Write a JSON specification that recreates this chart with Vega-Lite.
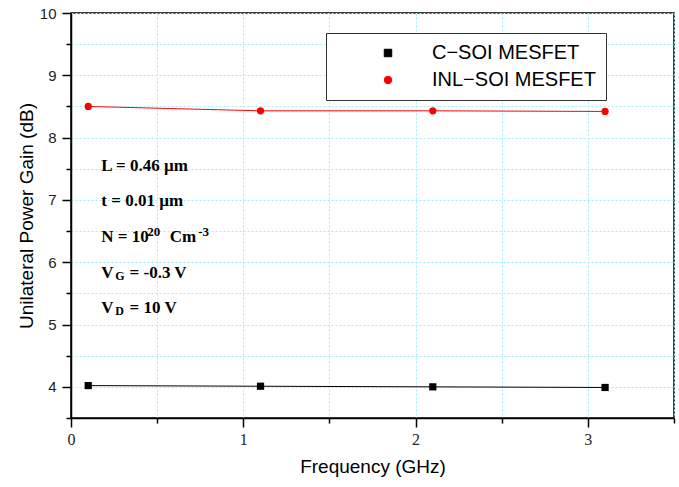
{
  "$schema": "https://vega.github.io/schema/vega-lite/v6.json",
  "width": 603,
  "height": 405,
  "autosize": {"type": "none"},
  "padding": {"left": 71, "top": 13, "right": 5, "bottom": 69},
  "background": "white",
  "config": {
    "view": {"stroke": "black", "strokeWidth": 1.5},
    "axis": {
      "domainColor": "black",
      "domainWidth": 1.5,
      "tickColor": "black",
      "tickWidth": 1.5,
      "grid": true,
      "gridColor": "#9eeef8",
      "gridDash": [2, 2],
      "gridWidth": 1,
      "titleFont": "Liberation Sans",
      "titleFontWeight": "normal",
      "titleColor": "black"
    }
  },
  "datasets": {
    "series": [
      {"device": "C−SOI MESFET", "freq": 0.1, "gain": 4.02},
      {"device": "C−SOI MESFET", "freq": 1.1, "gain": 4.01},
      {"device": "C−SOI MESFET", "freq": 2.1, "gain": 4.0},
      {"device": "C−SOI MESFET", "freq": 3.1, "gain": 3.99},
      {"device": "INL−SOI MESFET", "freq": 0.1, "gain": 8.5},
      {"device": "INL−SOI MESFET", "freq": 1.1, "gain": 8.43},
      {"device": "INL−SOI MESFET", "freq": 2.1, "gain": 8.43},
      {"device": "INL−SOI MESFET", "freq": 3.1, "gain": 8.42}
    ],
    "notes": [
      {"label": "L = 0.46 µm", "freq": 0.176, "gain": 7.46},
      {"label": "t = 0.01 µm", "freq": 0.176, "gain": 6.9},
      {"label": "N = 10", "freq": 0.176, "gain": 6.33},
      {"label": "Cm", "freq": 0.573, "gain": 6.33},
      {"label": "V", "freq": 0.176, "gain": 5.75},
      {"label": "= -0.3 V", "freq": 0.34, "gain": 5.75},
      {"label": "V", "freq": 0.176, "gain": 5.18},
      {"label": "= 10 V", "freq": 0.34, "gain": 5.18}
    ],
    "sups": [
      {"label": "20", "freq": 0.442, "gain": 6.33},
      {"label": "-3", "freq": 0.738, "gain": 6.33}
    ],
    "subs": [
      {"label": "G", "freq": 0.257, "gain": 5.75},
      {"label": "D", "freq": 0.257, "gain": 5.18}
    ]
  },
  "encoding": {
    "x": {
      "field": "freq",
      "type": "quantitative",
      "scale": {"domain": [0, 3.5], "nice": false, "zero": false},
      "axis": {
        "title": "Frequency (GHz)",
        "titleFontSize": 19,
        "titlePadding": 10,
        "values": [0, 0.5, 1, 1.5, 2, 2.5, 3, 3.5],
        "labelExpr": "datum.value % 1 === 0 ? format(datum.value, 'd') : ''",
        "labelFont": "Liberation Serif",
        "labelFontSize": 16,
        "labelColor": "#222222",
        "labelPadding": 4,
        "labelFlush": false,
        "tickSize": {"condition": {"test": "datum.value % 1 !== 0", "value": 5}, "value": 9}
      }
    },
    "y": {
      "field": "gain",
      "type": "quantitative",
      "scale": {"domain": [3.5, 10], "nice": false, "zero": false},
      "axis": {
        "title": "Unilateral Power Gain (dB)",
        "titleFontSize": 19,
        "titlePadding": 3,
        "values": [3.5, 4, 4.5, 5, 5.5, 6, 6.5, 7, 7.5, 8, 8.5, 9, 9.5, 10],
        "labelExpr": "datum.value % 1 === 0 ? format(datum.value, 'd') : ''",
        "labelFont": "Liberation Sans",
        "labelFontSize": 15,
        "labelColor": "#222222",
        "labelPadding": 6,
        "labelFlush": false,
        "tickSize": {"condition": {"test": "datum.value % 1 !== 0", "value": 5}, "value": 9}
      }
    }
  },
  "layer": [
    {
      "data": {"name": "series"},
      "mark": {"type": "line", "strokeWidth": 1},
      "encoding": {
        "color": {
          "field": "device",
          "type": "nominal",
          "scale": {"domain": ["C−SOI MESFET", "INL−SOI MESFET"], "range": ["#000000", "#ff0000"]}
        }
      }
    },
    {
      "data": {"name": "series"},
      "mark": {"type": "point", "filled": true, "opacity": 1},
      "encoding": {
        "color": {
          "field": "device",
          "type": "nominal",
          "scale": {"domain": ["C−SOI MESFET", "INL−SOI MESFET"], "range": ["#000000", "#ff0000"]},
          "legend": {
            "title": null,
            "orient": "none",
            "legendX": 255,
            "legendY": 20,
            "padding": 10,
            "strokeColor": "#333333",
            "fillColor": "white",
            "symbolSize": 56,
            "symbolOffset": 42,
            "symbolStrokeWidth": 1,
            "labelFont": "Liberation Sans",
            "labelFontSize": 20,
            "labelColor": "black",
            "labelOffset": 34,
            "labelLimit": 300,
            "rowPadding": 7,
            "encode": {
              "legend": {
                "strokeWidth": {"value": 1.5}
              }
            }
          }
        },
        "shape": {
          "field": "device",
          "type": "nominal",
          "scale": {"domain": ["C−SOI MESFET", "INL−SOI MESFET"], "range": ["square", "circle"]},
          "legend": null
        },
        "size": {"value": 52}
      }
    },
    {
      "data": {"name": "notes"},
      "mark": {"type": "text", "align": "left", "baseline": "alphabetic", "font": "Liberation Serif", "fontWeight": "bold", "fontSize": 17, "color": "black"},
      "encoding": {"text": {"field": "label"}}
    },
    {
      "data": {"name": "sups"},
      "mark": {"type": "text", "align": "left", "baseline": "alphabetic", "font": "Liberation Serif", "fontWeight": "bold", "fontSize": 13, "dy": -6, "color": "black"},
      "encoding": {"text": {"field": "label"}}
    },
    {
      "data": {"name": "subs"},
      "mark": {"type": "text", "align": "left", "baseline": "alphabetic", "font": "Liberation Serif", "fontWeight": "bold", "fontSize": 12, "dy": 2, "color": "black"},
      "encoding": {"text": {"field": "label"}}
    }
  ]
}
